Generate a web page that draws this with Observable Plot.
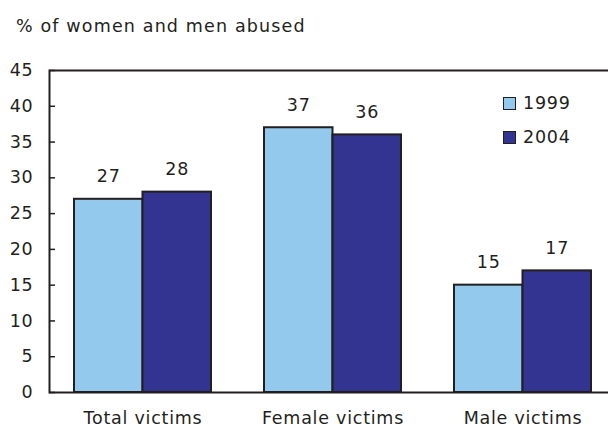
<!DOCTYPE html>
<html>
<head>
<meta charset="utf-8">
<script src="https://cdn.jsdelivr.net/npm/d3@7"></script>
<script src="https://cdn.jsdelivr.net/npm/@observablehq/plot@0.6"></script>
<style>
  html, body { margin: 0; padding: 0; background: #fff; overflow: hidden; }
  #wrap { position: relative; width: 608px; height: 428px; overflow: hidden; font-family: "DejaVu Sans", sans-serif; color: #231f20; }
  #title { position: absolute; left: 16px; top: 16px; font-size: 17.5px; letter-spacing: 1.15px; white-space: nowrap; }
  #chart { position: absolute; left: 0; top: 40px; width: 608px; overflow: hidden; }
  #legend { position: absolute; left: 503px; top: 96px; font-size: 17.5px; letter-spacing: 0.8px; }
  .item { display: flex; align-items: center; height: 14px; }
  .sw { width: 11px; height: 11px; border: 1.5px solid #231f20; margin-right: 7px; }
</style>
</head>
<body>
<div id="wrap">
  <div id="title">% of women and men abused</div>
  <div id="chart"></div>
  <div id="legend"></div>
</div>
<script>
const categories = ["Total victims", "Female victims", "Male victims"];
const years = ["1999", "2004"];
const values1999 = [27, 37, 15];
const values2004 = [28, 36, 17];
const yTicks = [0, 5, 10, 15, 20, 25, 30, 35, 40, 45];
const colors = ["#93c9ec", "#333391"];

const data = [];
categories.forEach((c, i) => {
  data.push({category: c, year: years[0], value: values1999[i]});
  data.push({category: c, year: years[1], value: values2004[i]});
});

const W = 608, H = 388, mL = 49, mR = -8, mT = 30, mB = 36;
const pIn = 0.28, pOut = 0.13;
const xs = Plot.scale({x: {type: "band", domain: categories, range: [mL, W - mR], paddingInner: pIn, paddingOuter: pOut}});
const bw = xs.bandwidth;
const half = bw / 2;

const ink = "#231f20";
const chart = Plot.plot({
  width: W, height: H,
  marginLeft: mL, marginRight: mR, marginTop: mT, marginBottom: mB,
  style: {fontFamily: "DejaVu Sans, sans-serif", fontSize: "17.5px", letterSpacing: "0.75px", color: ink, background: "white", overflow: "hidden"},
  x: {type: "band", domain: categories, paddingInner: pIn, paddingOuter: pOut, axis: null},
  y: {domain: [0, 45], axis: null},
  color: {domain: years, range: colors},
  marks: [
    Plot.barY(data.filter(d => d.year === years[0]), {x: "category", y: "value", fill: "year", stroke: ink, strokeWidth: 2, insetRight: half}),
    Plot.barY(data.filter(d => d.year === years[1]), {x: "category", y: "value", fill: "year", stroke: ink, strokeWidth: 2, insetLeft: half}),
    Plot.text(data.filter(d => d.year === years[0]), {x: "category", y: "value", text: d => String(d.value), dx: -half / 2, dy: -17, lineAnchor: "bottom", fill: ink}),
    Plot.text(data.filter(d => d.year === years[1]), {x: "category", y: "value", text: d => String(d.value), dx: half / 2, dy: -17, lineAnchor: "bottom", fill: ink}),
    Plot.frame({stroke: ink, strokeWidth: 2}),
    Plot.axisY({ticks: yTicks, tickSize: -6, tickPadding: 22, tickFormat: d => String(d), label: null, stroke: ink, strokeWidth: 1.5, fill: ink}),
    Plot.axisX({tickSize: 0, tickPadding: 19, label: null, fill: ink})
  ]
});
document.getElementById("chart").appendChild(chart);

const legend = document.getElementById("legend");
years.forEach((y, i) => {
  const row = document.createElement("div");
  row.className = "item";
  row.style.marginTop = i === 0 ? "0px" : "20px";
  const sw = document.createElement("div");
  sw.className = "sw";
  sw.style.background = colors[i];
  const t = document.createElement("span");
  t.textContent = y;
  row.appendChild(sw);
  row.appendChild(t);
  legend.appendChild(row);
});
</script>
</body>
</html>
